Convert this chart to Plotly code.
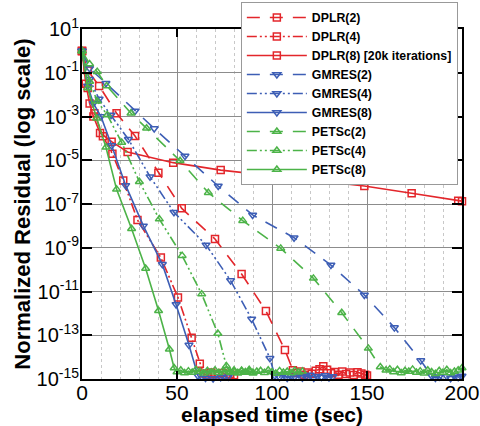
import plotly.graph_objects as go

# ---------------- data (time in sec, log10 of normalized residual) ----------------
dplr2_t = [0, 3, 9, 18.2, 27.9, 40.2, 52.5, 70, 84, 96.8, 106.8, 111, 113, 115, 117, 119, 121, 123, 125,
           127, 129, 131, 133, 135, 137, 139, 141, 143, 145, 147, 149, 150]
dplr2_L = [0, -0.9, -1.6, -2.85, -3.89, -5.57, -7.2, -8.6, -10.2, -11.89, -13.67, -14.6, -14.72, -14.66,
           -14.80, -14.70, -14.76, -14.62, -14.55, -14.42, -14.58, -14.74, -14.68, -14.80, -14.66, -14.77,
           -14.70, -14.82, -14.69, -14.75, -14.80, -14.84]

dplr4_t = [0, 3, 6.5, 11, 16, 21.7, 29.2, 41.5, 50.5, 57.7, 62, 64, 66, 68, 70, 72, 74, 76, 78, 80]
dplr4_L = [0, -1.7, -2.85, -3.9, -4.7, -5.93, -7.73, -9.45, -11.27, -13.11, -14.3, -14.75, -14.82,
           -14.70, -14.78, -14.85, -14.72, -14.80, -14.76, -14.83]

dplr8_t = [0, 2, 4, 6, 9.5, 15.6, 24, 48, 73, 98, 123.5, 148.6, 173.5, 198, 200]
dplr8_L = [0, -1.5, -2.4, -3.0, -3.75, -4.15, -4.62, -5.11, -5.45, -5.69, -5.93, -6.18, -6.51, -6.85, -6.87]

gmres2_t = [0, 4, 12.6, 27.9, 38, 54.2, 71.7, 89.8, 111.6, 131, 148.6, 164.4, 178.3, 184, 186, 188,
            190, 192, 194, 196, 198, 200]
gmres2_L = [0, -0.8, -1.48, -2.75, -3.55, -4.81, -6.18, -7.5, -8.54, -9.79, -11.16, -12.65, -14.16,
            -14.85, -14.95, -14.9, -15.05, -14.88, -14.97, -14.84, -14.92, -14.86]

gmres4_t = [0, 4, 9, 15.3, 24.4, 35.8, 48.4, 65.3, 78.2, 89.3, 98.9, 101.5, 104, 106, 108, 110, 112,
            114, 116, 118, 120, 122, 124, 126, 128, 130, 132]
gmres4_L = [0, -1.3, -2.2, -2.93, -4.04, -5.75, -7.38, -8.87, -10.5, -12.26, -14.05, -14.85, -14.92,
            -14.80, -14.96, -14.86, -14.90, -14.78, -14.94, -14.88, -14.82, -14.95, -14.87, -14.91,
            -14.84, -14.93, -14.89]

gmres8_t = [0, 3, 6, 10, 15.6, 23, 32.3, 42.3, 49.5, 56.3, 61, 63, 65, 67, 69, 71, 73, 75, 77]
gmres8_L = [0, -1.6, -2.4, -3.0, -4.33, -6.15, -8.0, -9.76, -11.59, -13.45, -14.85, -15.05, -14.95,
            -15.1, -14.98, -15.06, -14.92, -15.02, -14.9]

petsc2_t = [0, 4, 8, 13, 25.8, 34, 51.6, 66.5, 84.6, 104.6, 121.8, 136.7, 150.7, 157, 160, 162, 164,
            166, 168, 170, 172, 174, 176, 178, 180, 182, 184, 186, 188, 190, 192, 194, 196, 198, 200]
petsc2_L = [0, -0.6, -0.95, -1.6, -2.85, -3.54, -5.02, -6.48, -7.76, -9.03, -10.4, -11.97, -13.6,
            -14.45, -14.6, -14.55, -14.68, -14.58, -14.72, -14.62, -14.66, -14.56, -14.70, -14.64,
            -14.74, -14.60, -14.68, -14.76, -14.62, -14.70, -14.58, -14.72, -14.66, -14.6, -14.5]

petsc4_t = [0, 4, 8, 13.3, 20.9, 30.2, 40.7, 52.7, 63, 71.5, 76, 78, 80, 82, 84, 86, 88, 90, 92, 94,
            96, 98, 100, 102, 104, 106, 108, 110, 112, 114, 116]
petsc4_L = [0, -1.4, -2.3, -2.93, -4.19, -5.98, -7.69, -9.36, -11.12, -12.92, -14.4, -14.68, -14.6,
            -14.72, -14.64, -14.70, -14.58, -14.74, -14.66, -14.62, -14.71, -14.60, -14.68, -14.75,
            -14.63, -14.70, -14.66, -14.72, -14.61, -14.69, -14.65]

petsc8_t = [0, 3, 7.7, 12.6, 18.2, 26.1, 33.5, 40.3, 46, 48.5, 50, 52, 54, 56, 58, 60, 62, 64, 66, 68,
            70, 72, 74, 76, 78, 80, 82, 84, 86, 88, 90]
petsc8_L = [0, -1.7, -3.08, -4.41, -6.33, -8.13, -9.95, -11.88, -13.64, -14.5, -14.68, -14.6, -14.72,
            -14.64, -14.70, -14.58, -14.66, -14.74, -14.62, -14.69, -14.60, -14.71, -14.65, -14.58,
            -14.70, -14.66, -14.73, -14.61, -14.68, -14.64, -14.7]

series_names = ["DPLR(2)", "DPLR(4)", "DPLR(8) [20k iterations]",
                "GMRES(2)", "GMRES(4)", "GMRES(8)",
                "PETSc(2)", "PETSc(4)", "PETSc(8)"]
series_t = [dplr2_t, dplr4_t, dplr8_t, gmres2_t, gmres4_t, gmres8_t, petsc2_t, petsc4_t, petsc8_t]
series_L = [dplr2_L, dplr4_L, dplr8_L, gmres2_L, gmres4_L, gmres8_L, petsc2_L, petsc4_L, petsc8_L]

y_tick_exps = [1, -1, -3, -5, -7, -9, -11, -13, -15]
x_tick_vals = [0, 50, 100, 150, 200]

# ---------------- styles ----------------
RED, BLUE, GREEN = "#e3262b", "#3d5eb5", "#4cb348"
colors = [RED] * 3 + [BLUE] * 3 + [GREEN] * 3
dashes = ["13px,10px", "10px,3px,2px,3px,2px,3px", "solid"] * 3
symbols = ["square-open"] * 3 + ["triangle-down-open"] * 3 + ["triangle-up-open"] * 3

fig = go.Figure()
for name, t, L, c, d, s in zip(series_names, series_t, series_L, colors, dashes, symbols):
    fig.add_trace(go.Scatter(
        x=t, y=[10 ** v for v in L], name=name, mode="lines+markers",
        line=dict(color=c, width=1.6, dash=d),
        marker=dict(symbol=s, size=7, color=c, line=dict(color=c, width=1.5)),
        cliponaxis=False,
    ))

FONT = "Liberation Sans, Arial, Helvetica, sans-serif"
fig.update_layout(
    width=480, height=426,
    margin=dict(l=82, r=18, t=29, b=47, autoexpand=False),
    paper_bgcolor="white", plot_bgcolor="white",
    font=dict(family=FONT, color="black"),
    showlegend=True,
    legend=dict(
        x=0.418, y=1.077, xanchor="left", yanchor="top",
        bgcolor="white", bordercolor="#999999", borderwidth=1,
        font=dict(family=FONT, size=12.3, weight="bold", color="black"),
        itemwidth=60, tracegroupgap=0,
    ),
)
fig.update_xaxes(
    range=[0, 200], tickvals=x_tick_vals, ticks="inside", ticklen=8, tickwidth=1.5,
    tickcolor="black", showline=True, linecolor="black", linewidth=2, mirror="ticks",
    showgrid=True, gridcolor="#8c8c8c", gridwidth=1, zeroline=False,
    tickfont=dict(size=21, family=FONT), ticklabelstandoff=-6,
    minor=dict(dtick=10, showgrid=True, gridcolor="#c8c8c8", griddash="dot", gridwidth=1, ticks=""),
    title=dict(text="elapsed time (sec)", font=dict(size=21, weight="bold", family=FONT), standoff=9),
)
fig.update_yaxes(
    type="log", range=[-15, 1],
    tickvals=[10 ** e for e in y_tick_exps],
    ticktext=["10<sup>%d</sup>" % e for e in y_tick_exps],
    ticks="inside", ticklen=10, tickwidth=1.5, tickcolor="black",
    showline=True, linecolor="black", linewidth=2, mirror="ticks",
    showgrid=True, gridcolor="#8c8c8c", gridwidth=1, zeroline=False,
    tickfont=dict(size=20, family=FONT), ticklabelstandoff=-3,
    title=dict(text="\u00a0\u00a0Normalized Residual (log scale)",
               font=dict(size=22, weight="bold", family=FONT), standoff=0),
)

fig.write_html("out.html")
